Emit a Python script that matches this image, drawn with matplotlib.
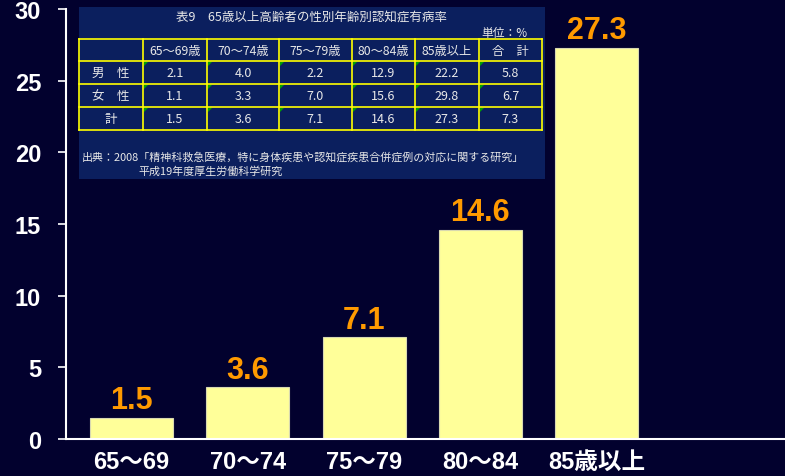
import matplotlib
matplotlib.use("Agg")
import matplotlib.pyplot as plt
from matplotlib.patches import Rectangle, Polygon
from matplotlib import font_manager

# data
categories = ["65〜69", "70〜74", "75〜79", "80〜84", "85歳以上"]
totals = [1.5, 3.6, 7.1, 14.6, 27.3]

table_title = "表9　65歳以上高齢者の性別年齢別認知症有病率"
table_unit = "単位：%"
table_cols = ["65〜69歳", "70〜74歳", "75〜79歳", "80〜84歳", "85歳以上", "合　計"]
table_rows = ["男　性", "女　性", "計"]
male = [2.1, 4.0, 2.2, 12.9, 22.2, 5.8]
female = [1.1, 3.3, 7.0, 15.6, 29.8, 6.7]
overall = [1.5, 3.6, 7.1, 14.6, 27.3, 7.3]
source_lines = ["出典：2008「精神科救急医療，特に身体疾患や認知症疾患合併症例の対応に関する研究」",
                "平成19年度厚生労働科学研究"]

names = {f.name for f in font_manager.fontManager.ttflist}
narrow = "Liberation Sans Narrow" if "Liberation Sans Narrow" in names else "Liberation Sans"
BIG = [narrow, "Noto Sans CJK JP", "DejaVu Sans"]
SMALL = ["Noto Sans CJK JP", "DejaVu Sans"]

BG = "#02012e"
TXT = "#e8e8e8"
W, H = 785, 477

fig = plt.figure(figsize=(W / 100, H / 100), dpi=100, facecolor=BG)
ax = fig.add_axes([66 / W, 37 / H, 1 - 66 / W, 430 / H], facecolor=BG)

x = range(len(categories))
ax.bar(x, totals, width=0.715, color="#ffff99", edgecolor="#d8d8b0", linewidth=0.8, zorder=2)
for i, v in zip(x, totals):
    ax.annotate(f"{v}", (i, v), xytext=(0, 7), textcoords="offset points",
                ha="center", va="baseline", color="#ff9a00",
                fontsize=22, fontweight="bold", family=BIG)

ax.set_xlim(-0.565, 5.62)
ax.set_ylim(0, 30)
ax.set_yticks(range(0, 31, 5))
ax.set_xticks(list(x))
ax.set_xticklabels(categories, family=BIG, fontsize=17, fontweight="bold", color="white")
ax.tick_params(axis="x", length=0, pad=8)
ax.tick_params(axis="y", direction="out", length=6, width=1.2, color="white",
               labelcolor="white", labelsize=17, pad=12)
for lbl in ax.get_yticklabels():
    lbl.set_family(BIG)
    lbl.set_fontweight("bold")
for s in ("top", "right"):
    ax.spines[s].set_visible(False)
for s in ("left", "bottom"):
    ax.spines[s].set_color("white")
    ax.spines[s].set_linewidth(1.5)

# table overlay in pixel coordinates
ov = fig.add_axes([0, 0, 1, 1], facecolor="none")
ov.set_xlim(0, W)
ov.set_ylim(H, 0)
ov.axis("off")
ov.add_patch(Rectangle((79, 8), 466, 172, facecolor="#0b1f5e", edgecolor="none"))
ov.text(311, 17, table_title, ha="center", va="center", color=TXT, fontsize=9, family=SMALL)
ov.text(528, 33, table_unit, ha="right", va="center", color=TXT, fontsize=8.5, family=SMALL)

xs = [79, 143, 207, 279, 352, 415, 479, 542]
ys = [40, 62, 85, 108, 131]
for xv in xs:
    ov.plot([xv, xv], [ys[0], ys[-1]], color="#ffff00", lw=1.2)
for yv in ys:
    ov.plot([xs[0], xs[-1]], [yv, yv], color="#ffff00", lw=1.2)

for j, c in enumerate(table_cols):
    ov.text((xs[j + 1] + xs[j + 2]) / 2, (ys[0] + ys[1]) / 2, c, ha="center", va="center",
            color=TXT, fontsize=8.8, family=SMALL)
for r, (rname, vals) in enumerate(zip(table_rows, [male, female, overall])):
    yc = (ys[r + 1] + ys[r + 2]) / 2
    ov.text((xs[0] + xs[1]) / 2, yc, rname, ha="center", va="center",
            color=TXT, fontsize=9, family=SMALL)
    for j, v in enumerate(vals):
        x0 = xs[j + 1]
        ov.text((x0 + xs[j + 2]) / 2, yc, f"{v:.1f}", ha="center", va="center",
                color=TXT, fontsize=9, family=SMALL)
        y0 = ys[r + 1]
        ov.add_patch(Polygon([(x0 + 1, y0 + 1), (x0 + 5, y0 + 1), (x0 + 1, y0 + 5)],
                             closed=True, facecolor="#00a000", edgecolor="none"))

ov.text(82, 157, source_lines[0], ha="left", va="center", color=TXT, fontsize=7.9, family=SMALL)
ov.text(138, 172, source_lines[1], ha="left", va="center", color=TXT, fontsize=7.9, family=SMALL)

fig.savefig("out.png", dpi=100, facecolor=BG)
